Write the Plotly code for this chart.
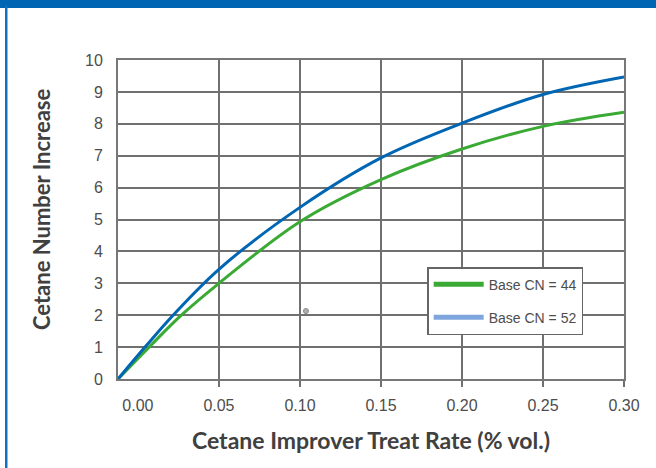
import plotly.graph_objects as go

# Data
x_cn52 = [-0.0123, 0.0044, 0.0217, 0.05, 0.10, 0.15, 0.20, 0.25, 0.30]
y_cn52 = [0.0, 1.0, 2.0, 3.44, 5.38, 6.93, 8.02, 8.92, 9.47]
x_cn44 = [-0.0123, 0.0069, 0.0268, 0.05, 0.10, 0.15, 0.20, 0.25, 0.30]
y_cn44 = [0.0, 1.0, 2.0, 3.0, 4.93, 6.25, 7.21, 7.92, 8.36]

series_names = ["Base CN = 44", "Base CN = 52"]
x_label_vals = [0.00, 0.05, 0.10, 0.15, 0.20, 0.25, 0.30]
x_label_text = ["0.00", "0.05", "0.10", "0.15", "0.20", "0.25", "0.30"]
x_grid_vals = [0.05, 0.10, 0.15, 0.20, 0.25, 0.30]
y_tick_vals = list(range(0, 11))
x_title = "Cetane Improver Treat Rate (% vol.)"
y_title = "Cetane Number Increase"

stray_x = [0.1037]
stray_y = [2.13]

X_RANGE = [-0.0123, 0.30]
TICK_FONT = "Liberation Sans, Arial, sans-serif"
TITLE_FONT = "Lato, Liberation Sans, sans-serif"
GREEN = "#3aaa35"
BLUE = "#0066b3"
BLUE_LEGEND = "#7ea6dd"
GRID = "#707070"

fig = go.Figure()

fig.add_trace(go.Scatter(x=x_cn44, y=y_cn44, mode="lines", line=dict(color=GREEN, width=3, shape="spline"),
                         showlegend=False, hoverinfo="skip"))
fig.add_trace(go.Scatter(x=x_cn52, y=y_cn52, mode="lines", line=dict(color=BLUE, width=3, shape="spline"),
                         showlegend=False, hoverinfo="skip"))
fig.add_trace(go.Scatter(x=stray_x, y=stray_y, mode="markers",
                         marker=dict(size=5, color="#b0b0b0", line=dict(color="#888888", width=1)),
                         showlegend=False, hoverinfo="skip"))

# legend entries (swatch colours as in the reference legend)
fig.add_trace(go.Scatter(x=[None], y=[None], mode="lines", name=series_names[0], legendgroup="a",
                         line=dict(color=GREEN, width=5), xaxis="x2"))
fig.add_trace(go.Scatter(x=[None], y=[None], mode="lines", name=series_names[1], legendgroup="b",
                         line=dict(color=BLUE_LEGEND, width=5), xaxis="x2"))

fig.update_layout(
    width=656, height=468,
    margin=dict(l=118, r=32, t=60, b=89, autoexpand=False),
    paper_bgcolor="white", plot_bgcolor="white",
    font=dict(family=TICK_FONT, color="#4d4d4d"),
    xaxis=dict(range=X_RANGE, tickmode="array", tickvals=x_grid_vals, showticklabels=False,
               showgrid=True, gridcolor=GRID, gridwidth=1.6,
               ticks="outside", ticklen=6, tickcolor=GRID, tickwidth=1.6,
               showline=True, linecolor="#777777", linewidth=2, mirror=True, zeroline=False),
    xaxis2=dict(range=X_RANGE, overlaying="x", anchor="y", side="bottom",
                tickmode="array", tickvals=x_label_vals, ticktext=x_label_text,
                showgrid=False, zeroline=False, ticks="", ticklabelstandoff=15,
                tickfont=dict(size=16, color="#4d4d4d", family=TICK_FONT),
                automargin=False,
                title=dict(text="<b>" + x_title + "</b>", standoff=19,
                           font=dict(size=23, color="#404040", family=TITLE_FONT, weight=700))),
    yaxis=dict(range=[0, 10], tickmode="array", tickvals=y_tick_vals,
               showgrid=True, gridcolor=GRID, gridwidth=1.6, zeroline=False,
               showline=True, linecolor="#777777", linewidth=2, mirror=True,
               ticks="", ticklabelstandoff=10, automargin=False,
               tickfont=dict(size=16, color="#4d4d4d", family=TICK_FONT)),
    annotations=[
        dict(text="<b>" + y_title + "</b>", xref="paper", yref="paper", x=-0.150, y=0.533,
             xanchor="center", yanchor="middle", textangle=-90, showarrow=False,
             font=dict(size=22, color="#404040", family=TITLE_FONT, weight=700)),
    ],
    legend=dict(x=0.611, y=0.351, xanchor="left", yanchor="top",
                bgcolor="white", bordercolor="#666666", borderwidth=1.5,
                font=dict(size=14, color="#4d4d4d", family=TICK_FONT),
                itemwidth=50,
                traceorder="grouped", tracegroupgap=12),
    shapes=[
        dict(type="rect", xref="paper", yref="paper", x0=-0.25, x1=1.2, y0=1.163, y1=1.2,
             fillcolor=BLUE, line=dict(width=0), layer="above"),
        dict(type="rect", xref="paper", yref="paper", x0=-0.2233, x1=-0.2184, y0=-0.3, y1=1.17,
             fillcolor="#1570bb", line=dict(width=0), layer="above"),
    ],
)

fig.write_html("out.html", config={"displayModeBar": False},
               post_script="document.body.style.margin='0';")
